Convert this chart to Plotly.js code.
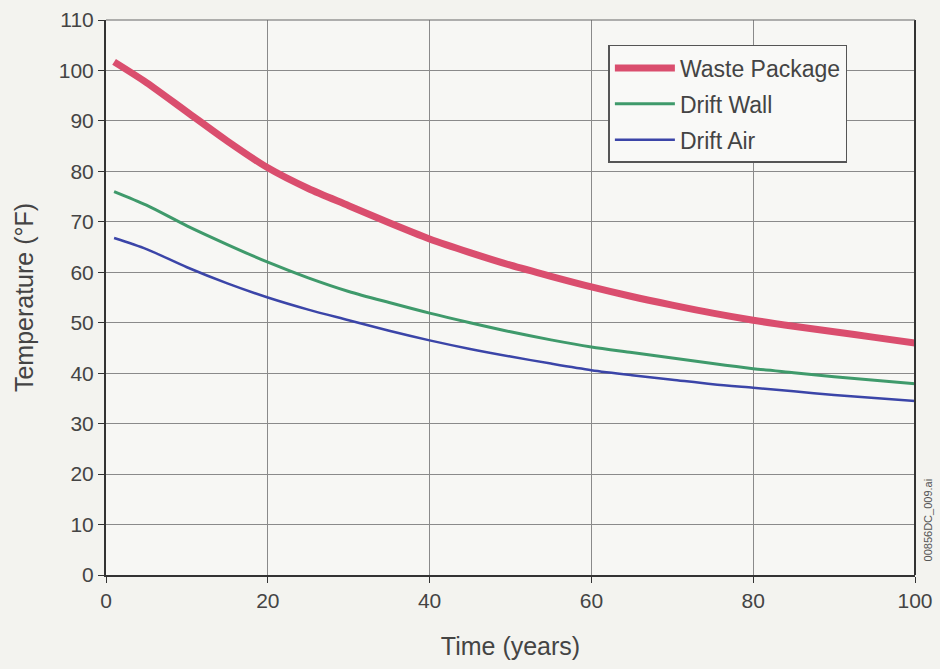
<!DOCTYPE html>
<html>
<head>
<meta charset="utf-8">
<script src="https://cdn.plot.ly/plotly-3.0.1.min.js"></script>
<style>html,body{margin:0;padding:0;background:#f3f3ef;}#chart{width:940px;height:669px;}</style>
</head>
<body>
<div id="chart"></div>
<script>
var years = [1, 5, 10, 15, 20, 25, 30, 35, 40, 45, 50, 55, 60, 65, 70, 75, 80, 85, 90, 95, 100];
var wastePackage = [101.7, 97.6, 91.8, 86.0, 80.7, 76.6, 73.2, 69.8, 66.6, 63.9, 61.4, 59.2, 57.1, 55.2, 53.5, 51.9, 50.5, 49.3, 48.2, 47.1, 46.0];
var driftWall = [76.0, 73.3, 69.2, 65.5, 62.0, 58.9, 56.2, 54.0, 51.9, 50.0, 48.2, 46.6, 45.2, 44.1, 43.0, 41.9, 40.9, 40.1, 39.3, 38.6, 37.9];
var driftAir = [66.8, 64.6, 61.0, 57.8, 55.0, 52.6, 50.5, 48.4, 46.5, 44.8, 43.3, 41.9, 40.6, 39.6, 38.7, 37.8, 37.1, 36.4, 35.7, 35.1, 34.5];
var seriesNames = ["Waste Package", "Drift Wall", "Drift Air"];
var xTicks = [0, 20, 40, 60, 80, 100];
var yTicks = [0, 10, 20, 30, 40, 50, 60, 70, 80, 90, 100, 110];

var traces = [
  {x: years, y: wastePackage, name: seriesNames[0], type: "scatter", mode: "lines", legendgroup: "a",
   line: {color: "#da4e6e", width: 7, shape: "spline", smoothing: 0.8}},
  {x: years, y: driftWall, name: seriesNames[1], type: "scatter", mode: "lines", legendgroup: "b",
   line: {color: "#3f9a6b", width: 3, shape: "spline", smoothing: 0.8}},
  {x: years, y: driftAir, name: seriesNames[2], type: "scatter", mode: "lines", legendgroup: "c",
   line: {color: "#3b45a8", width: 2.5, shape: "spline", smoothing: 0.8}}
];

var fontFam = "Liberation Sans, Arial, sans-serif";
var layout = {
  width: 940, height: 669,
  margin: {l: 106, r: 25, t: 20, b: 94},
  paper_bgcolor: "#f3f3ef",
  plot_bgcolor: "#f7f7f4",
  font: {family: fontFam, color: "#444", size: 21},
  showlegend: true,
  legend: {
    x: 0.621, y: 0.955, xanchor: "left", yanchor: "top",
    bgcolor: "#f9f9f7", bordercolor: "#555", borderwidth: 1.5,
    font: {family: fontFam, size: 23, color: "#444"},
    tracegroupgap: 3, itemwidth: 60
  },
  xaxis: {
    range: [0, 100], tickvals: xTicks, ticktext: xTicks.map(String),
    showgrid: true, gridcolor: "#8a8a8a", gridwidth: 1,
    showline: true, linecolor: "#333", linewidth: 2, mirror: false,
    ticks: "outside", ticklen: 6, tickcolor: "#333", zeroline: false,
    tickfont: {size: 21, color: "#444"},
    title: {text: "Time (years)", font: {size: 25, color: "#444"}, standoff: 26}
  },
  yaxis: {
    range: [0, 110], tickvals: yTicks, ticktext: yTicks.map(String),
    showgrid: true, gridcolor: "#8a8a8a", gridwidth: 1,
    showline: true, linecolor: "#333", linewidth: 2,
    ticks: "outside", ticklen: 6, tickcolor: "#333", zeroline: false,
    tickfont: {size: 21, color: "#444"},
    title: {text: "Temperature (°F)", font: {size: 25, color: "#444"}, standoff: 18}
  },
  shapes: [
    {type: "line", xref: "paper", yref: "paper", x0: 1, x1: 1, y0: 0, y1: 1, line: {color: "#333", width: 2}},
    {type: "line", xref: "paper", yref: "paper", x0: 0, x1: 1, y0: 1, y1: 1, line: {color: "#666", width: 1}}
  ],
  annotations: [
    {text: "00856DC_009.ai", xref: "paper", yref: "paper", x: 1.016, y: 0.10, textangle: -90,
     showarrow: false, font: {size: 11, color: "#555", family: fontFam}, xanchor: "center", yanchor: "middle"}
  ]
};

Plotly.newPlot("chart", traces, layout, {displayModeBar: false, staticPlot: true});
</script>
</body>
</html>
